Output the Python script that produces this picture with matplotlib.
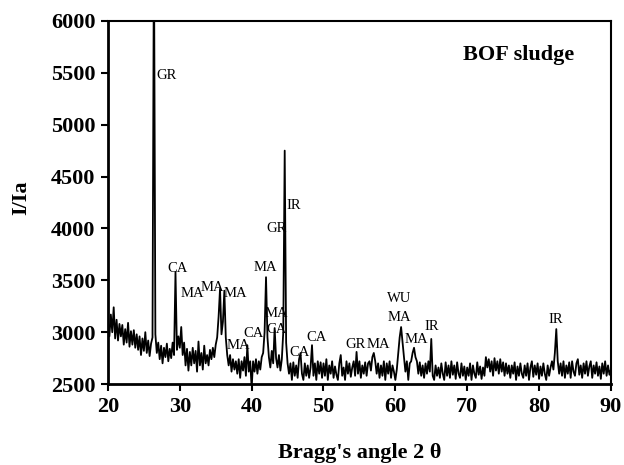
import numpy as np
import matplotlib
matplotlib.use("Agg")
import matplotlib.pyplot as plt

# Diffraction pattern sampled every 0.2 degrees from 20 to 90 (2-theta)
two_theta = np.linspace(20.0, 90.0, 351)
intensity = [
    3100, 2960, 3170, 3000, 3240, 2940, 3120, 2920, 3080, 2960,   # 20.0-21.8
    3070, 2880, 3030, 2900, 3090, 2860, 3010, 2880, 3020, 2850,   # 22.0-23.8
    2980, 2830, 2960, 2780, 2940, 2820, 3000, 2800, 2920, 2770,   # 24.0-25.8
    2890, 2950, 6800, 2980, 2800, 2900, 2740, 2870, 2700, 2850,   # 26.0-27.8
    2760, 2890, 2720, 2840, 2750, 2900, 2780, 3580, 2830, 2960,   # 28.0-29.8
    2850, 3050, 2780, 2900, 2680, 2840, 2630, 2810, 2680, 2850,   # 30.0-31.8
    2700, 2820, 2620, 2910, 2680, 2800, 2640, 2870, 2700, 2780,   # 32.0-33.8
    2680, 2830, 2740, 2850, 2760, 2880, 2950, 3150, 3420, 2980,   # 34.0-35.8
    3100, 3400, 2950, 2780, 2680, 2780, 2620, 2740, 2640, 2720,   # 36.0-37.8
    2600, 2740, 2560, 2720, 2630, 2760, 2580, 2875, 2620, 2720,   # 38.0-39.8
    2460, 2720, 2620, 2740, 2600, 2720, 2640, 2760, 2800, 3000,   # 40.0-41.8
    3530, 2950, 2760, 2660, 2820, 2700, 3040, 2750, 2660, 2780,   # 42.0-43.8
    2630, 2740, 3000, 4750, 2900, 2700, 2600, 2700, 2540, 2710,   # 44.0-45.8
    2580, 2680, 2560, 2740, 2800, 2600, 2540, 2700, 2580, 2680,   # 46.0-47.8
    2560, 2660, 2875, 2580, 2700, 2540, 2720, 2600, 2710, 2560,   # 48.0-49.8
    2700, 2580, 2740, 2540, 2680, 2600, 2720, 2560, 2670, 2590,   # 50.0-51.8
    2540, 2700, 2780, 2580, 2660, 2540, 2720, 2600, 2700, 2570,   # 52.0-53.8
    2660, 2720, 2580, 2810, 2600, 2720, 2560, 2680, 2600, 2710,   # 54.0-55.8
    2580, 2700, 2720, 2630, 2760, 2800, 2720, 2600, 2700, 2560,   # 56.0-57.8
    2680, 2580, 2720, 2540, 2700, 2600, 2720, 2560, 2680, 2620,   # 58.0-59.8
    2540, 2640, 2800, 2950, 3050, 2900, 2760, 2620, 2720, 2540,   # 60.0-61.8
    2700, 2720, 2800, 2850, 2760, 2720, 2600, 2710, 2580, 2680,   # 62.0-63.8
    2560, 2700, 2600, 2720, 2620, 2935, 2580, 2540, 2680, 2580,   # 64.0-65.8
    2660, 2560, 2700, 2600, 2540, 2710, 2580, 2680, 2560, 2720,   # 66.0-67.8
    2590, 2680, 2550, 2710, 2600, 2560, 2700, 2580, 2670, 2540,   # 68.0-69.8
    2660, 2580, 2700, 2540, 2680, 2600, 2560, 2710, 2590, 2670,   # 70.0-71.8
    2550, 2660, 2580, 2760, 2660, 2740, 2620, 2720, 2580, 2750,   # 72.0-73.8
    2630, 2720, 2600, 2740, 2620, 2710, 2580, 2700, 2600, 2680,   # 74.0-75.8
    2560, 2680, 2600, 2710, 2540, 2670, 2580, 2700, 2600, 2560,   # 76.0-77.8
    2680, 2580, 2700, 2540, 2660, 2720, 2570, 2680, 2590, 2700,   # 78.0-79.8
    2550, 2670, 2580, 2700, 2600, 2540, 2680, 2580, 2660, 2720,   # 80.0-81.8
    2640, 2800, 3030, 2720, 2600, 2700, 2580, 2720, 2560, 2680,   # 82.0-83.8
    2600, 2710, 2560, 2720, 2620, 2580, 2700, 2740, 2590, 2680,   # 84.0-85.8
    2560, 2700, 2600, 2720, 2580, 2670, 2720, 2560, 2680, 2600,   # 86.0-87.8
    2710, 2580, 2670, 2550, 2700, 2600, 2720, 2580, 2680, 2590,   # 88.0-89.8
    2640,                                                         # 90.0
]

# Phase labels (text, 2-theta position, intensity position)
label_text = ["GR", "CA", "MA", "MA", "MA", "MA", "CA", "MA", "MA", "CA",
              "GR", "IR", "CA", "CA", "GR", "MA", "WU", "MA", "MA", "IR", "IR"]
label_x = [28.1, 29.75, 31.7, 34.6, 37.7, 38.1, 40.2, 41.9, 43.5, 43.4,
           43.4, 45.9, 46.7, 49.1, 54.4, 57.6, 60.5, 60.6, 63.0, 65.0, 82.3]
label_y = [5470, 3617, 3376, 3434, 3376, 2875, 2990, 3627, 3184, 3030,
           4002, 4224, 2808, 2952, 2885, 2885, 3328, 3145, 2933, 3058, 3126]

x_ticks = [20, 30, 40, 50, 60, 70, 80, 90]
y_ticks = [2500, 3000, 3500, 4000, 4500, 5000, 5500, 6000]

assert len(intensity) == len(two_theta)

plt.rcParams['font.family'] = ['Liberation Serif', 'DejaVu Serif']

fig = plt.figure(figsize=(6.24, 4.65), dpi=100)
ax = fig.add_axes([0.173, 0.174, 0.806, 0.781])

ax.plot(two_theta, intensity, color='black', linewidth=1.3)

ax.set_xlim(20, 90)
ax.set_ylim(2500, 6000)
ax.set_xticks(x_ticks)
ax.set_yticks(y_ticks)
ax.tick_params(axis='both', direction='out', length=5, width=1.5,
               labelsize=16, pad=4)
for lab in ax.get_xticklabels() + ax.get_yticklabels():
    lab.set_fontweight('bold')

for side in ['left', 'bottom']:
    ax.spines[side].set_linewidth(2.0)
for side in ['top', 'right']:
    ax.spines[side].set_linewidth(1.5)

for t, x, y in zip(label_text, label_x, label_y):
    ax.text(x, y, t, fontsize=10.5, ha='center', va='center', color='black')

ax.text(77.2, 5668, "BOF sludge", fontsize=16, fontweight='bold',
        ha='center', va='center')

fig.text(0.034, 0.575, "I/Ia", rotation=90, fontsize=16, fontweight='bold',
         ha='center', va='center')
fig.text(0.576, 0.026, "Bragg's angle 2 θ", fontsize=16, fontweight='bold',
         ha='center', va='center')

fig.savefig("out.png", dpi=100)
